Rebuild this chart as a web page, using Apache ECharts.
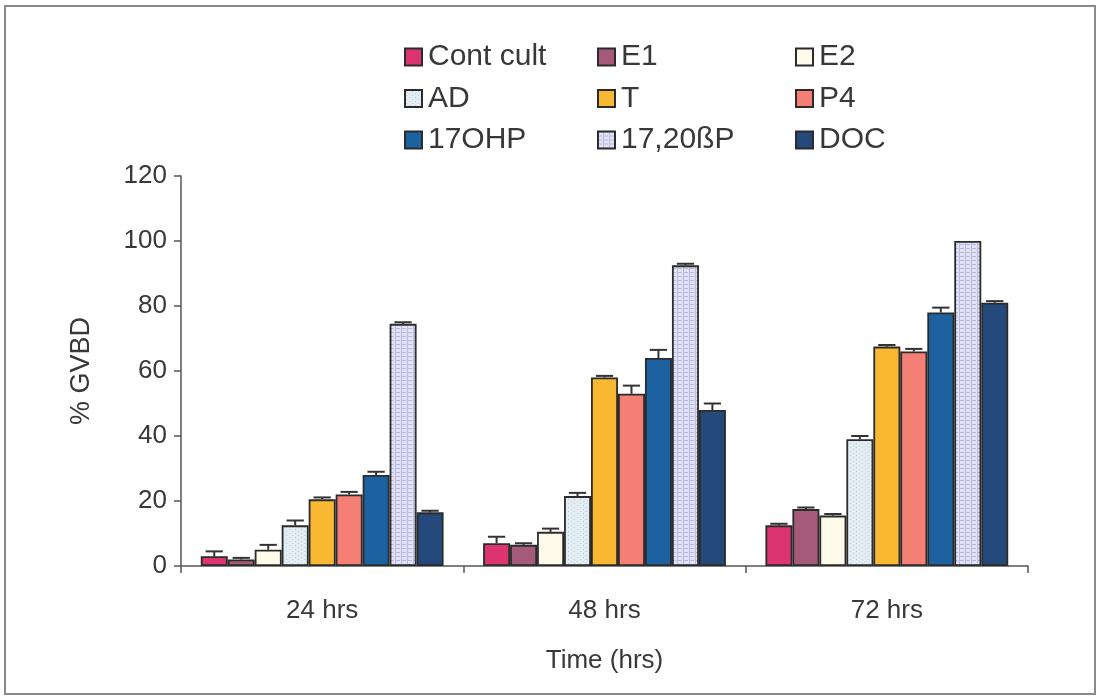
<!DOCTYPE html>
<html>
<head>
<meta charset="utf-8">
<script src="https://cdn.jsdelivr.net/npm/echarts@6/dist/echarts.min.js"></script>
<style>
  html, body { margin: 0; padding: 0; background: #ffffff; }
  #chart { width: 1097px; height: 699px; }
</style>
</head>
<body>
<div id="chart"></div>
<script>
// Germinal vesicle breakdown (%) over time for each steroid treatment
const categories = ['24 hrs', '48 hrs', '72 hrs'];
const seriesNames = ['Cont cult', 'E1', 'E2', 'AD', 'T', 'P4', '17OHP', '17,20ßP', 'DOC'];

// mean %GVBD per treatment at 24, 48, 72 hrs
const contCult = [3, 7, 12.5];
const e1 = [2, 6.5, 17.5];
const e2 = [5, 10.5, 15.5];
const ad = [12.5, 21.5, 39];
const t = [20.5, 58, 67.5];
const p4 = [22, 53, 66];
const ohp17 = [28, 64, 78];
const dhp1720 = [74.5, 92.5, 100];
const doc = [16.5, 48, 81];

// standard error (upper half drawn)
const contCultErr = [1.5, 2, 0.5];
const e1Err = [0.5, 0.5, 0.5];
const e2Err = [1.5, 1, 0.5];
const adErr = [1.5, 1, 1];
const tErr = [0.6, 0.5, 0.5];
const p4Err = [0.8, 2.5, 0.8];
const ohp17Err = [1, 2.5, 1.5];
const dhp1720Err = [0.5, 0.5, 0];
const docErr = [0.5, 2, 0.5];

const yTicks = [0, 20, 40, 60, 80, 100, 120];

const values = [contCult, e1, e2, ad, t, p4, ohp17, dhp1720, doc];
const errors = [contCultErr, e1Err, e2Err, adErr, tErr, p4Err, ohp17Err, dhp1720Err, docErr];

function makePattern(bg, fg, kind) {
  const c = document.createElement('canvas');
  c.width = 6; c.height = 4;
  const g = c.getContext('2d');
  g.fillStyle = bg; g.fillRect(0, 0, 6, 4);
  g.fillStyle = fg;
  if (kind === 'dash') {
    g.fillRect(0, 0, 4, 1);
    g.fillRect(5, 0, 1, 4);
  } else {
    g.fillRect(1, 1, 1, 1);
    g.fillRect(4, 3, 1, 1);
  }
  return { image: c, repeat: 'repeat' };
}

const fills = [
  '#dc3470',
  '#a65a7a',
  '#fffbea',
  makePattern('#e2ecf3', '#c4d3de', 'dot'),
  '#f9b832',
  '#f47f74',
  '#1c62a0',
  makePattern('#e2e2f7', '#b9b9dd', 'dash'),
  '#25497a'
];

const CAT_GAP = 0.14;
const N = seriesNames.length;

const series = [];
seriesNames.forEach((name, i) => {
  series.push({
    name: name,
    type: 'bar',
    data: values[i],
    barGap: '0%',
    barCategoryGap: (CAT_GAP * 100) + '%',
    itemStyle: { color: fills[i], borderColor: '#2b2b2b', borderWidth: 1.8 },
    emphasis: { disabled: true },
    z: 2
  });
});

seriesNames.forEach((name, i) => {
  series.push({
    type: 'custom',
    name: name + ' err',
    z: 3,
    silent: true,
    data: categories.map((c, k) => [k, values[i][k], errors[i][k]]),
    renderItem: function (params, api) {
      const k = api.value(0), v = api.value(1), e = api.value(2);
      if (!e) return null;
      const band = api.size([1, 0])[0];
      const bw = band * (1 - CAT_GAP) / N;
      const cx = api.coord([k, 0])[0] + (i - (N - 1) / 2) * bw;
      const yBase = api.coord([k, v])[1];
      const yTop = api.coord([k, v + e])[1];
      const half = bw * 0.32;
      const style = { stroke: '#333333', lineWidth: 2, fill: null };
      return {
        type: 'group',
        children: [
          { type: 'line', shape: { x1: cx, y1: yBase, x2: cx, y2: yTop }, style: style },
          { type: 'line', shape: { x1: cx - half, y1: yTop, x2: cx + half, y2: yTop }, style: style }
        ]
      };
    }
  });
});

const legendCols = [
  [seriesNames[0], seriesNames[3], seriesNames[6]],
  [seriesNames[1], seriesNames[4], seriesNames[7]],
  [seriesNames[2], seriesNames[5], seriesNames[8]]
];
const legendLeft = [399, 592, 790];

const legends = legendCols.map((col, j) => ({
  orient: 'vertical',
  left: legendLeft[j],
  top: 37,
  data: col.map(n => ({ name: n, icon: 'rect' })),
  itemWidth: 17,
  itemHeight: 17,
  itemGap: 11.5,
  selectedMode: false,
  textStyle: {
    fontFamily: 'Liberation Sans, Arial, sans-serif',
    fontSize: 30,
    lineHeight: 30,
    color: '#383838',
    padding: [0, 0, 0, 1]
  }
}));

const chart = echarts.init(document.getElementById('chart'), null, { renderer: 'canvas' });
chart.setOption({
  backgroundColor: '#ffffff',
  animation: false,
  textStyle: { fontFamily: 'Liberation Sans, Arial, sans-serif' },
  graphic: [{
    type: 'rect',
    shape: { x: 5, y: 6, width: 1090, height: 688 },
    style: { fill: null, stroke: '#8a8a8a', lineWidth: 2 },
    silent: true
  }],
  legend: legends,
  grid: { left: 181, right: 69, top: 176, bottom: 133 },
  xAxis: {
    type: 'category',
    data: categories,
    name: 'Time (hrs)',
    nameLocation: 'middle',
    nameGap: 82,
    nameTextStyle: { fontSize: 26, color: '#383838' },
    axisLine: { lineStyle: { color: '#555555', width: 1.5 } },
    axisTick: { show: true, length: 7, lineStyle: { color: '#555555', width: 1.5 } },
    axisLabel: { fontSize: 26, color: '#383838', margin: 32 }
  },
  yAxis: {
    type: 'value',
    min: yTicks[0],
    max: yTicks[yTicks.length - 1],
    interval: yTicks[1] - yTicks[0],
    name: '% GVBD',
    nameLocation: 'middle',
    nameGap: 86,
    nameRotate: 90,
    nameTextStyle: { fontSize: 27, color: '#383838' },
    axisLine: { show: true, lineStyle: { color: '#555555', width: 1.5 } },
    axisTick: { show: true, length: 7, lineStyle: { color: '#555555', width: 1.5 } },
    axisLabel: { fontSize: 26, color: '#383838', margin: 14 },
    splitLine: { show: false }
  },
  series: series
});
</script>
</body>
</html>
